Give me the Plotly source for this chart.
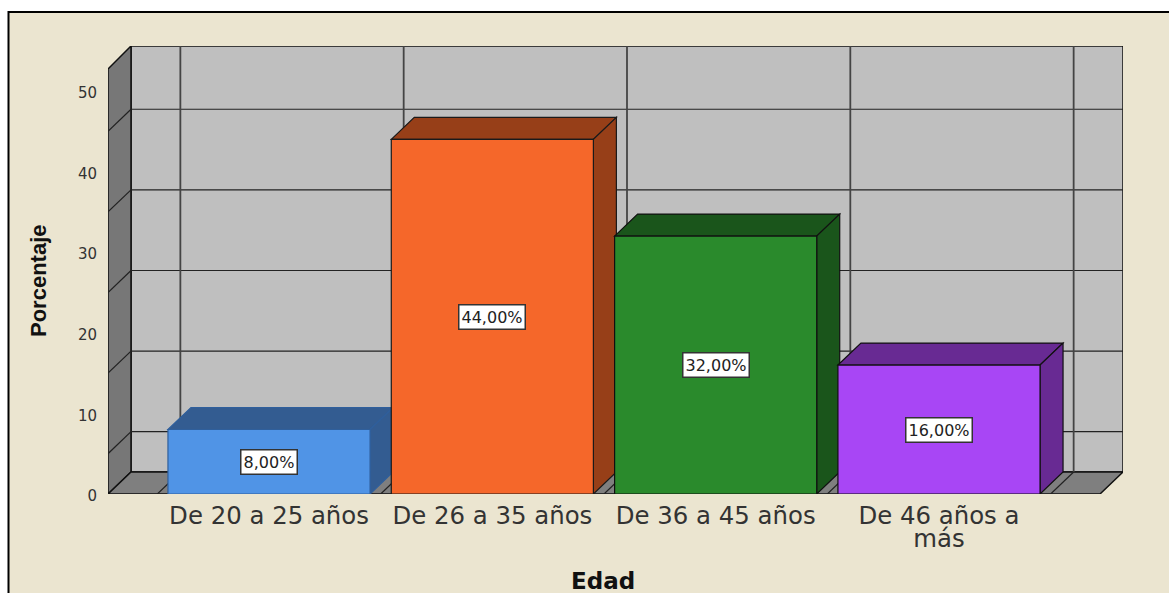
import plotly.graph_objects as go

categories = ["De 20 a 25 años", "De 26 a 35 años", "De 36 a 45 años", "De 46 años a<br>más"]
values = [8, 44, 32, 16]
labels = ["8,00%", "44,00%", "32,00%", "16,00%"]
front_colors = ["#5094e6", "#f5672a", "#2a8a2c", "#a846f5"]
side_colors = ["#335c91", "#973f18", "#1a551b", "#682a93"]
edge_colors = ["#2f5f9c", "#1a1a1a", "#111111", "#111111"]
y_ticks = [0, 10, 20, 30, 40, 50]
grid_values = [5, 15, 25, 35, 45]
x_borders = [-0.5, 0.5, 1.5, 2.5, 3.5]

BAR_W = 0.905
DX, DY = 0.103, 2.73          # oblique depth of the pseudo-3D box, in axis units
X_MIN, X_FRONT_MAX, X_MAX = -0.721, 3.721, 3.824
Y_FRONT_MAX, Y_MAX = 52.73, 55.58
PL, PR, PT, PB = 108, 1123, 46, 494
W, H = 1169, 593


def poly(pts):
    return "M " + " L ".join(f"{x} {y}" for x, y in pts) + " Z"


def face(pts, fill, line="#111111", width=1):
    return dict(type="path", path=poly(pts), xref="x", yref="y", fillcolor=fill,
                line=dict(color=line, width=width), layer="below")


def seg(x0, y0, x1, y1, color="#222222", width=1.2):
    return dict(type="line", x0=x0, y0=y0, x1=x1, y1=y1, xref="x", yref="y",
                line=dict(color=color, width=width), layer="below")


def px_x(p):
    return (p - PL) / (PR - PL)


def px_y(p):
    return (PB - p) / (PB - PT)


def tick_text(label):
    # line spacing follows the base tick font (18px); the glyphs are drawn larger
    return "<br>".join(f'<span style="font-size:24.4px">{part}</span>' for part in label.split("<br>"))


shapes = [
    dict(type="rect", xref="paper", yref="paper", x0=px_x(8.5), x1=px_x(W + 5), y0=px_y(H + 5), y1=px_y(12),
         fillcolor="#ebe5d0", line=dict(color="#000000", width=2), layer="below"),
    face([(X_MIN + DX, DY), (X_MAX, DY), (X_MAX, Y_MAX), (X_MIN + DX, Y_MAX)], "#bfbfbf", width=1.5),
    face([(X_MIN, 0), (X_MIN + DX, DY), (X_MIN + DX, Y_MAX), (X_MIN, Y_FRONT_MAX)], "#777777", width=1.5),
    face([(X_MIN, 0), (X_MIN + DX, DY), (X_MAX, DY), (X_FRONT_MAX, 0)], "#7f7f7f", width=1.5),
]
for g in grid_values:
    shapes.append(seg(X_MIN + DX, g + DY, X_MAX, g + DY))
    shapes.append(seg(X_MIN, g, X_MIN + DX, g + DY))
for b in x_borders:
    shapes.append(seg(b + DX, DY, b + DX, Y_MAX, "#444444", 1.8))
    shapes.append(seg(b, 0, b + DX, DY, "#222222", 1.2))

for i, v in enumerate(values):
    x0, x1 = i - BAR_W / 2, i + BAR_W / 2
    shapes.append(face([(x0, v), (x0 + DX, v + DY), (x1 + DX, v + DY), (x1, v)], side_colors[i], edge_colors[i], 1.2))
    shapes.append(face([(x1, 0), (x1 + DX, DY), (x1 + DX, v + DY), (x1, v)], side_colors[i], edge_colors[i], 1.2))

fig = go.Figure(go.Bar(
    x=list(range(len(categories))), y=values, width=BAR_W,
    marker=dict(color=front_colors, line=dict(color=edge_colors, width=1.2)),
    hoverinfo="skip", showlegend=False,
))

annotations = [
    dict(x=i, y=v / 2, xref="x", yref="y", text=labels[i], showarrow=False,
         font=dict(family="DejaVu Sans", size=16, color="#222222"),
         bgcolor="#ffffff", bordercolor="#333333", borderwidth=1.5, borderpad=2)
    for i, v in enumerate(values)
]
annotations += [
    dict(text="<b>Edad</b>", xref="paper", yref="paper", x=px_x(603), y=px_y(581), showarrow=False,
         xanchor="center", yanchor="middle",
         font=dict(family="DejaVu Sans", size=23, color="#111111")),
    dict(text="<b>Porcentaje</b>", xref="paper", yref="paper", x=px_x(38), y=px_y(281), showarrow=False,
         xanchor="center", yanchor="middle",
         textangle=-90, font=dict(family="Liberation Sans", size=22, color="#111111")),
]

fig.update_layout(
    width=W, height=H, margin=dict(l=PL, r=W - PR, t=PT, b=H - PB, autoexpand=False),
    paper_bgcolor="#ffffff", plot_bgcolor="rgba(0,0,0,0)", shapes=shapes, annotations=annotations,
    xaxis=dict(range=[X_MIN, X_MAX], tickmode="array", tickvals=list(range(len(categories))),
               ticktext=[tick_text(c) for c in categories],
               showgrid=False, zeroline=False, showline=False, ticks="outside", ticklen=7,
               tickcolor="rgba(0,0,0,0)", tickangle=0,
               tickfont=dict(family="DejaVu Sans", size=18, color="#333333")),
    yaxis=dict(range=[0, Y_MAX], tickmode="array", tickvals=y_ticks, showgrid=False, zeroline=False,
               showline=False, ticks="outside", ticklen=7, tickcolor="rgba(0,0,0,0)", ticklabelshift=2,
               tickfont=dict(family="DejaVu Sans", size=15, color="#333333")),
)

fig.write_html("out.html", config={"displayModeBar": False},
               post_script="document.body.style.margin='0';document.body.style.overflow='hidden';")
